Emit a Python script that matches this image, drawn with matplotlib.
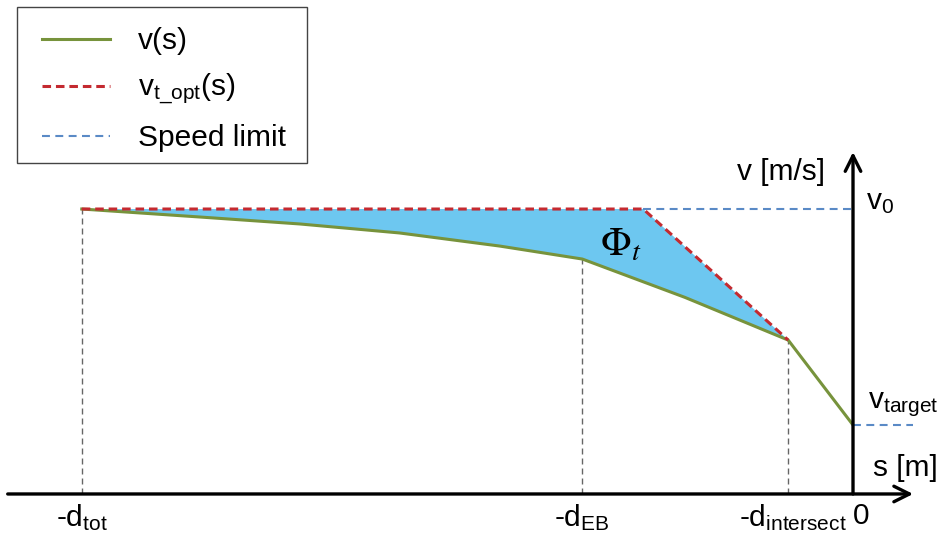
import matplotlib
matplotlib.use('Agg')
import matplotlib.pyplot as plt
from matplotlib.patches import Rectangle
import numpy as np

plt.rcParams['font.family'] = ['Liberation Sans', 'DejaVu Sans']
plt.rcParams['mathtext.fontset'] = 'custom'
plt.rcParams['mathtext.rm'] = 'Liberation Sans'
plt.rcParams['mathtext.it'] = 'Liberation Sans:italic'
plt.rcParams['mathtext.default'] = 'rm'

# distances (m) and speeds (m/s)
d_tot = 100.0
d_eb = 35.1
d_intersect = 8.4
v0 = 20.0
v_target = 4.84

# driven speed profile v(s)
s_v = [-100.0, -84.7, -71.7, -58.8, -45.8, -35.1, -21.8, -8.4, 0.0]
v_v = [20.0, 19.44, 18.95, 18.32, 17.4, 16.49, 13.8, 10.8, 4.84]

# time-optimal profile v_t_opt(s)
s_opt = [-100.0, -27.2, -8.4]
v_opt = [20.0, 20.0, 10.8]

# speed limit: v0 up to the stop line, v_target after it
s_lim = [-27.2, 0.0, np.nan, 0.0, 7.8]
v_lim = [20.0, 20.0, np.nan, 4.84, 4.84]

tick_pos = [-d_tot, -d_eb, -d_intersect, 0.0]
tick_lbl = [r'-d$_{tot}$', r'-d$_{EB}$', r'-d$_{intersect}$', '0']

GREEN = '#77933C'
RED = '#C42A30'
BLUE = '#5A8AC6'
FILL = '#6DC7F0'
GRAY = '#666666'
FS = 21.5

fig = plt.figure(figsize=(9.39, 5.41), dpi=100)
ax = fig.add_axes([0, 0, 1, 1])
ax.set_xlim(-110.6, 11.15)
ax.set_ylim(-3.30, 34.67)
ax.axis('off')

# area between the optimal and the driven profile (up to the intersection)
poly_s = list(s_opt) + s_v[:8][::-1]
poly_v = list(v_opt) + v_v[:8][::-1]
ax.fill(poly_s, poly_v, color=FILL, lw=0, zorder=1)

# drop lines to the s axis
for sx in [-d_tot, -d_eb, -d_intersect]:
    vy = np.interp(sx, s_v, v_v)
    ax.plot([sx, sx], [0, vy], color=GRAY, lw=1.0, dashes=(4.3, 2.9), zorder=2)

ln_v, = ax.plot(s_v, v_v, color=GREEN, lw=2.2, zorder=3, label=r'v(s)')
ln_opt, = ax.plot(s_opt, v_opt, color=RED, lw=2.2, dashes=(2.8, 1.6),
                  zorder=4, label=r'v$_{t\_opt}$(s)')
ln_lim, = ax.plot(s_lim, v_lim, color=BLUE, lw=1.5, dashes=(3.8, 2.6),
                  zorder=4, label='Speed limit')

# axes with arrow heads
arrow = dict(arrowstyle='->', color='black', lw=2.4, mutation_scale=28,
             shrinkA=0, shrinkB=0)
ax.annotate('', xy=(7.8, 0), xytext=(-109.6, 0), arrowprops=arrow, zorder=6)
ax.annotate('', xy=(0, 24.0), xytext=(0, 0), arrowprops=arrow, zorder=6)

# axis texts
ax.text(-3.6, 22.6, 'v [m/s]', ha='right', va='center', fontsize=FS)
ax.text(11.0, 1.8, 's [m]', ha='right', va='center', fontsize=FS)
ax.text(1.7, v0, r'v$_0$', ha='left', va='baseline', fontsize=FS)
ax.text(1.9, 6.03, r'v$_{target}$', ha='left', va='baseline', fontsize=FS)

offs = [0.0, -0.1, 0.6, 1.1]
for x, lbl, o in zip(tick_pos, tick_lbl, offs):
    ax.text(x + o, -0.55, lbl, ha='center', va='top', fontsize=FS)

ax.text(-32.8, 17.5, r'$\Phi_{\mathit{t}}$', ha='left', va='center',
        fontsize=29, math_fontfamily='stix', zorder=5)

# legend: frame drawn separately so the padding can differ per side
W, H = 939, 541
fig.patches.append(Rectangle((17 / W, 1 - 163 / H), 290 / W, 156 / H,
                             transform=fig.transFigure, facecolor='white',
                             edgecolor='#444444', lw=1.0, zorder=-1))
leg = ax.legend(handles=[ln_v, ln_opt, ln_lim], loc='upper left',
                bbox_to_anchor=(42 / W, 1 - 27 / H),
                bbox_transform=fig.transFigure, borderaxespad=0,
                fontsize=FS, frameon=False, borderpad=0,
                handlelength=2.27, handletextpad=0.93, labelspacing=0.57)

fig.savefig('out.png', dpi=100, facecolor='white')
